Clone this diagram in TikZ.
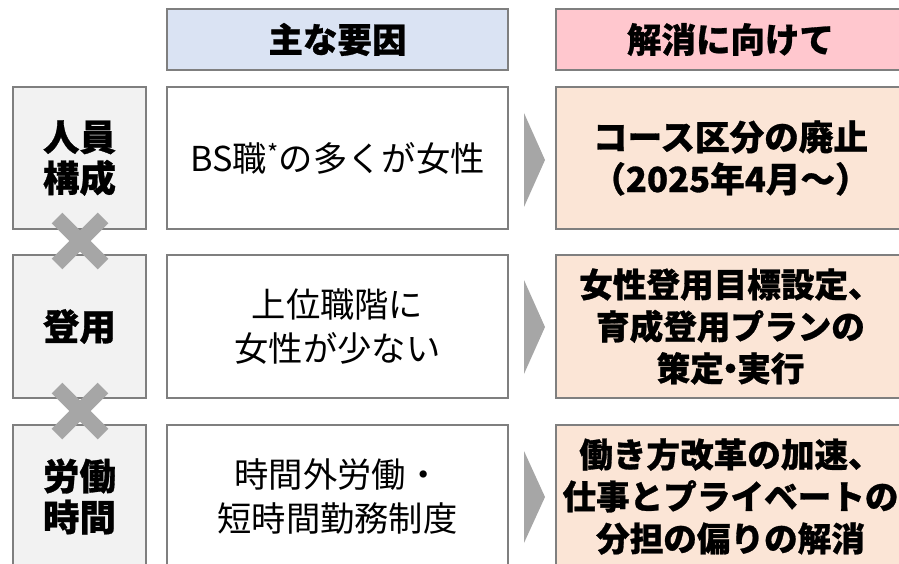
\documentclass[tikz,border=0pt]{standalone}
\usepackage{fontspec}
\usetikzlibrary{calc}
\setmainfont{Noto Sans CJK JP}[BoldFeatures={FakeBold=0.8}]
\definecolor{bordc}{HTML}{7F7F7F}
\definecolor{markc}{HTML}{A6A6A6}
\definecolor{hblue}{HTML}{DAE3F3}
\definecolor{hpink}{HTML}{FFC7CE}
\definecolor{rfill}{HTML}{FBE5D6}
\definecolor{lfill}{HTML}{F2F2F2}
\newcommand{\midpt}{\kern-0.3em・\kern-0.3em}
\begin{document}
\begin{tikzpicture}[x=1pt,y=-1pt,
  box/.style={draw=bordc, line width=2.5pt, inner sep=0pt, align=center, text=black},
  head/.style={box, minimum height=61pt, font=\fontsize{34.5}{40}\selectfont\bfseries},
  lbox/.style={box, fill=lfill, minimum width=133pt, font=\fontsize{36.5}{41}\selectfont\bfseries},
  mbox/.style={box, fill=white, minimum width=341pt, font=\fontsize{34.3}{44}\selectfont},
  rbox/.style={box, fill=rfill, minimum width=349pt, font=\fontsize{33.6}{42}\selectfont\bfseries},
  crossmark/.style={draw=markc, line width=15pt},
  chev/.style={fill=markc}]
\useasboundingbox (0,0) rectangle (899,564);
\clip (0,0) rectangle (899,564);
% headers
\node[head, fill=hblue, minimum width=341pt] (h1) at (337.5,39.5) {主な要因};
\node[head, fill=hpink, minimum width=349pt] (h2) at (730.5,39.5) {解消に向けて};
% row 1
\node[lbox, minimum height=142pt] (l1) at (79.5,158) {人員\\構成};
\node[mbox, minimum height=142pt] (m1) at (337.5,158) {BS職\textsuperscript{*}の多くが女性};
\node[rbox, minimum height=142pt] (r1) at (730.5,158) {\fontsize{34.6}{42}\selectfont コース区分の廃止\\\fontsize{34.6}{42}\selectfont（2025年4月～）};
% row 2
\node[lbox, minimum height=143pt] (l2) at (79.5,326.5) {登用};
\node[mbox, minimum height=143pt] (m2) at (337.5,326.5) {上位職階に\\女性が少ない};
\node[rbox, minimum height=143pt] (r2) at (730.5,326.5) {女性登用目標設定、\\育成登用プランの\\策定\midpt 実行};
% row 3
\node[lbox, minimum height=143pt] (l3) at (79.5,496.5) {労働\\時間};
\node[mbox, minimum height=143pt] (m3) at (337.5,496.5) {時間外労働・\\短時間勤務制度};
\node[rbox, minimum height=143pt] (r3) at (730.5,496.5) {働き方改革の加速、\\仕事とプライベートの\\分担の偏りの解消};
% crosses
\coordinate (x1) at (80,241);
\coordinate (x2) at (80,411);
\foreach \c in {x1,x2}{
  \draw[crossmark] ($(\c)+(-23,-23)$) -- ($(\c)+(23,23)$);
  \draw[crossmark] ($(\c)+(-23,23)$) -- ($(\c)+(23,-23)$);
}
% chevrons
\fill[chev] (524,113) -- (545,160) -- (524,207) -- cycle;
\fill[chev] (524,280) -- (545,327) -- (524,374) -- cycle;
\fill[chev] (524,451) -- (545,497) -- (524,543) -- cycle;
\end{tikzpicture}
\end{document}
